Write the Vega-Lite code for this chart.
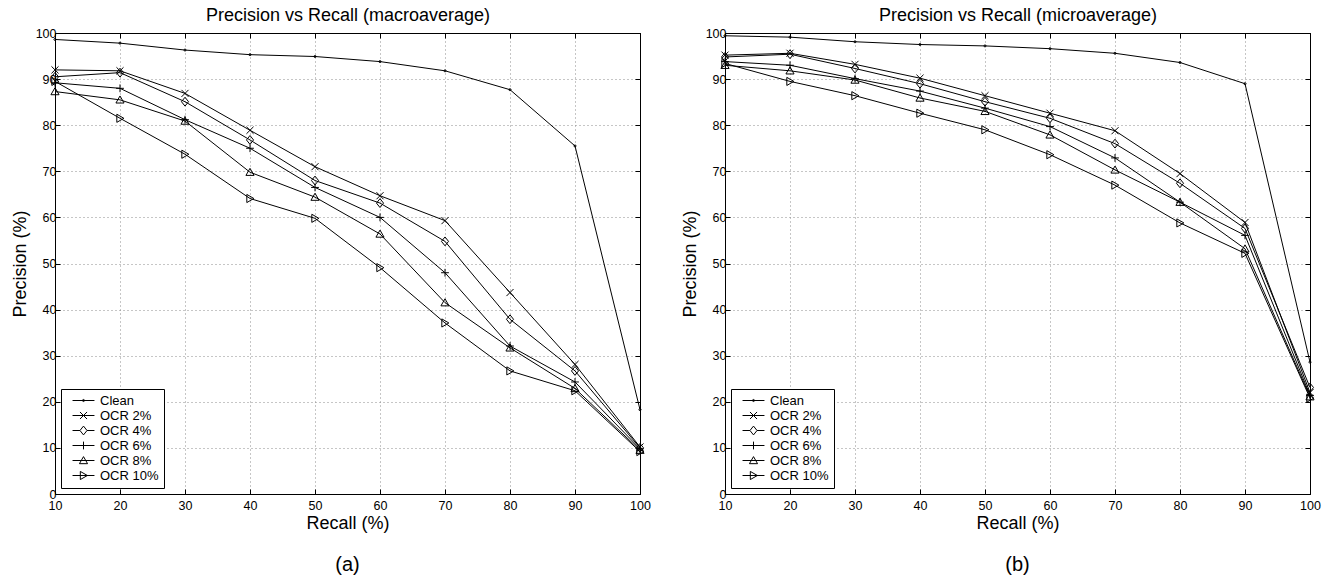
{
  "$schema": "https://vega.github.io/schema/vega-lite/v6.json",
  "background": "white",
  "padding": {"left": 10, "top": 6, "right": 2, "bottom": 2},
  "datasets": {
    "macro": [
      {"series": "Clean", "recall": 10, "precision": 98.6}, {"series": "Clean", "recall": 20, "precision": 97.8}, {"series": "Clean", "recall": 30, "precision": 96.3}, {"series": "Clean", "recall": 40, "precision": 95.3}, {"series": "Clean", "recall": 50, "precision": 94.9}, {"series": "Clean", "recall": 60, "precision": 93.8}, {"series": "Clean", "recall": 70, "precision": 91.8}, {"series": "Clean", "recall": 80, "precision": 87.7}, {"series": "Clean", "recall": 90, "precision": 75.5}, {"series": "Clean", "recall": 100, "precision": 18.3},
      {"series": "OCR 2%", "recall": 10, "precision": 92.0}, {"series": "OCR 2%", "recall": 20, "precision": 91.8}, {"series": "OCR 2%", "recall": 30, "precision": 86.9}, {"series": "OCR 2%", "recall": 40, "precision": 78.9}, {"series": "OCR 2%", "recall": 50, "precision": 71.0}, {"series": "OCR 2%", "recall": 60, "precision": 64.7}, {"series": "OCR 2%", "recall": 70, "precision": 59.3}, {"series": "OCR 2%", "recall": 80, "precision": 43.7}, {"series": "OCR 2%", "recall": 90, "precision": 28.1}, {"series": "OCR 2%", "recall": 100, "precision": 10.2},
      {"series": "OCR 4%", "recall": 10, "precision": 90.5}, {"series": "OCR 4%", "recall": 20, "precision": 91.4}, {"series": "OCR 4%", "recall": 30, "precision": 85.1}, {"series": "OCR 4%", "recall": 40, "precision": 76.8}, {"series": "OCR 4%", "recall": 50, "precision": 68.0}, {"series": "OCR 4%", "recall": 60, "precision": 63.1}, {"series": "OCR 4%", "recall": 70, "precision": 54.8}, {"series": "OCR 4%", "recall": 80, "precision": 37.9}, {"series": "OCR 4%", "recall": 90, "precision": 26.7}, {"series": "OCR 4%", "recall": 100, "precision": 10.0},
      {"series": "OCR 6%", "recall": 10, "precision": 89.2}, {"series": "OCR 6%", "recall": 20, "precision": 88.0}, {"series": "OCR 6%", "recall": 30, "precision": 81.2}, {"series": "OCR 6%", "recall": 40, "precision": 75.0}, {"series": "OCR 6%", "recall": 50, "precision": 66.5}, {"series": "OCR 6%", "recall": 60, "precision": 60.0}, {"series": "OCR 6%", "recall": 70, "precision": 48.0}, {"series": "OCR 6%", "recall": 80, "precision": 32.1}, {"series": "OCR 6%", "recall": 90, "precision": 24.3}, {"series": "OCR 6%", "recall": 100, "precision": 9.8},
      {"series": "OCR 8%", "recall": 10, "precision": 87.3}, {"series": "OCR 8%", "recall": 20, "precision": 85.5}, {"series": "OCR 8%", "recall": 30, "precision": 80.9}, {"series": "OCR 8%", "recall": 40, "precision": 69.8}, {"series": "OCR 8%", "recall": 50, "precision": 64.4}, {"series": "OCR 8%", "recall": 60, "precision": 56.4}, {"series": "OCR 8%", "recall": 70, "precision": 41.5}, {"series": "OCR 8%", "recall": 80, "precision": 31.7}, {"series": "OCR 8%", "recall": 90, "precision": 22.9}, {"series": "OCR 8%", "recall": 100, "precision": 9.5},
      {"series": "OCR 10%", "recall": 10, "precision": 89.5}, {"series": "OCR 10%", "recall": 20, "precision": 81.5}, {"series": "OCR 10%", "recall": 30, "precision": 73.7}, {"series": "OCR 10%", "recall": 40, "precision": 64.1}, {"series": "OCR 10%", "recall": 50, "precision": 59.8}, {"series": "OCR 10%", "recall": 60, "precision": 49.1}, {"series": "OCR 10%", "recall": 70, "precision": 37.1}, {"series": "OCR 10%", "recall": 80, "precision": 26.7}, {"series": "OCR 10%", "recall": 90, "precision": 22.4}, {"series": "OCR 10%", "recall": 100, "precision": 9.2}
    ],
    "micro": [
      {"series": "Clean", "recall": 10, "precision": 99.4}, {"series": "Clean", "recall": 20, "precision": 99.1}, {"series": "Clean", "recall": 30, "precision": 98.1}, {"series": "Clean", "recall": 40, "precision": 97.5}, {"series": "Clean", "recall": 50, "precision": 97.2}, {"series": "Clean", "recall": 60, "precision": 96.6}, {"series": "Clean", "recall": 70, "precision": 95.6}, {"series": "Clean", "recall": 80, "precision": 93.6}, {"series": "Clean", "recall": 90, "precision": 89.0}, {"series": "Clean", "recall": 100, "precision": 28.6},
      {"series": "OCR 2%", "recall": 10, "precision": 95.2}, {"series": "OCR 2%", "recall": 20, "precision": 95.6}, {"series": "OCR 2%", "recall": 30, "precision": 93.2}, {"series": "OCR 2%", "recall": 40, "precision": 90.2}, {"series": "OCR 2%", "recall": 50, "precision": 86.4}, {"series": "OCR 2%", "recall": 60, "precision": 82.6}, {"series": "OCR 2%", "recall": 70, "precision": 78.8}, {"series": "OCR 2%", "recall": 80, "precision": 69.5}, {"series": "OCR 2%", "recall": 90, "precision": 58.9}, {"series": "OCR 2%", "recall": 100, "precision": 22.0},
      {"series": "OCR 4%", "recall": 10, "precision": 94.8}, {"series": "OCR 4%", "recall": 20, "precision": 95.4}, {"series": "OCR 4%", "recall": 30, "precision": 92.3}, {"series": "OCR 4%", "recall": 40, "precision": 89.0}, {"series": "OCR 4%", "recall": 50, "precision": 85.1}, {"series": "OCR 4%", "recall": 60, "precision": 81.5}, {"series": "OCR 4%", "recall": 70, "precision": 76.0}, {"series": "OCR 4%", "recall": 80, "precision": 67.4}, {"series": "OCR 4%", "recall": 90, "precision": 57.6}, {"series": "OCR 4%", "recall": 100, "precision": 23.1},
      {"series": "OCR 6%", "recall": 10, "precision": 93.8}, {"series": "OCR 6%", "recall": 20, "precision": 93.0}, {"series": "OCR 6%", "recall": 30, "precision": 90.1}, {"series": "OCR 6%", "recall": 40, "precision": 87.4}, {"series": "OCR 6%", "recall": 50, "precision": 83.7}, {"series": "OCR 6%", "recall": 60, "precision": 79.7}, {"series": "OCR 6%", "recall": 70, "precision": 72.9}, {"series": "OCR 6%", "recall": 80, "precision": 63.3}, {"series": "OCR 6%", "recall": 90, "precision": 56.1}, {"series": "OCR 6%", "recall": 100, "precision": 21.4},
      {"series": "OCR 8%", "recall": 10, "precision": 93.0}, {"series": "OCR 8%", "recall": 20, "precision": 91.8}, {"series": "OCR 8%", "recall": 30, "precision": 89.8}, {"series": "OCR 8%", "recall": 40, "precision": 85.9}, {"series": "OCR 8%", "recall": 50, "precision": 83.0}, {"series": "OCR 8%", "recall": 60, "precision": 77.9}, {"series": "OCR 8%", "recall": 70, "precision": 70.3}, {"series": "OCR 8%", "recall": 80, "precision": 63.3}, {"series": "OCR 8%", "recall": 90, "precision": 53.2}, {"series": "OCR 8%", "recall": 100, "precision": 21.1},
      {"series": "OCR 10%", "recall": 10, "precision": 93.4}, {"series": "OCR 10%", "recall": 20, "precision": 89.5}, {"series": "OCR 10%", "recall": 30, "precision": 86.4}, {"series": "OCR 10%", "recall": 40, "precision": 82.6}, {"series": "OCR 10%", "recall": 50, "precision": 79.0}, {"series": "OCR 10%", "recall": 60, "precision": 73.6}, {"series": "OCR 10%", "recall": 70, "precision": 67.0}, {"series": "OCR 10%", "recall": 80, "precision": 58.8}, {"series": "OCR 10%", "recall": 90, "precision": 52.2}, {"series": "OCR 10%", "recall": 100, "precision": 20.8}
    ]
  },
  "config": {
    "font": "Liberation Sans",
    "view": {"stroke": "black", "strokeWidth": 1},
    "axis": {
      "grid": true, "gridColor": "#8c8c8c", "gridDash": [1, 3], "gridWidth": 1,
      "domainColor": "black", "tickColor": "black", "labelColor": "black", "titleColor": "black",
      "labelFontSize": 12.5, "labelFont": "Liberation Sans", "titleFont": "Liberation Sans",
      "titleFontSize": 18, "titleFontWeight": "normal", "tickSize": -5, "labelFlush": false, "labelOverlap": false
    },
    "axisX": {"labelPadding": 10},
    "axisY": {"labelPadding": 4},
    "legend": {
      "orient": "bottom-left", "offset": 6, "strokeColor": "black", "fillColor": "white",
      "padding": 5, "labelFontSize": 13, "labelFont": "Liberation Sans", "labelColor": "black",
      "rowPadding": 1, "symbolSize": 50, "symbolStrokeColor": "black", "symbolStrokeWidth": 1,
      "symbolOffset": 11, "labelOffset": 10, "cornerRadius": 0
    },
    "title": {"font": "Liberation Sans", "color": "black", "fontWeight": "normal"}
  },
  "resolve": {"scale": {"shape": "independent", "color": "independent"}, "legend": {"shape": "independent", "color": "independent"}},
  "spacing": 29,
  "hconcat": [
    {
      "width": 585, "height": 461,
      "data": {"name": "macro"},
      "title": {"text": "(a)", "orient": "bottom", "fontSize": 20, "offset": 22},
      "resolve": {"axis": {"x": "independent", "y": "independent"}},
      "layer": [
        {
          "mark": {"type": "line", "color": "black", "strokeWidth": 1},
          "encoding": {
            "x": {"field": "recall", "type": "quantitative", "scale": {"domain": [10, 100], "nice": false}, "axis": {"title": "Recall (%)", "values": [10, 20, 30, 40, 50, 60, 70, 80, 90, 100], "titlePadding": 3}},
            "y": {"field": "precision", "type": "quantitative", "scale": {"domain": [0, 100], "nice": false}, "axis": {"title": "Precision (%)", "values": [0, 10, 20, 30, 40, 50, 60, 70, 80, 90, 100], "titlePadding": 6}},
            "detail": {"field": "series", "type": "nominal"}
          }
        },
        {
          "mark": {"type": "point", "filled": false, "strokeWidth": 1, "opacity": 1, "size": 50},
          "encoding": {
            "x": {"field": "recall", "type": "quantitative", "scale": {"domain": [10, 100], "nice": false}, "axis": {"orient": "top", "labels": false, "grid": false, "title": "Precision vs Recall (macroaverage)", "titleFontSize": 18, "titlePadding": 8, "values": [10, 20, 30, 40, 50, 60, 70, 80, 90, 100]}},
            "y": {"field": "precision", "type": "quantitative", "scale": {"domain": [0, 100], "nice": false}, "axis": {"orient": "right", "labels": false, "grid": false, "title": null, "values": [0, 10, 20, 30, 40, 50, 60, 70, 80, 90, 100]}},
            "shape": {
              "field": "series", "type": "nominal", "legend": null,
              "scale": {
                "domain": ["Clean", "OCR 2%", "OCR 4%", "OCR 6%", "OCR 8%", "OCR 10%"],
                "range": ["M-0.3,0A0.3,0.3,0,1,1,0.3,0A0.3,0.3,0,1,1,-0.3,0Z", "M-1,-1L1,1M-1,1L1,-1", "M0,-1.25L1,0L0,1.25L-1,0Z", "M-1.1,0H1.1M0,-1.1V1.1", "M0,-1.1L1.15,0.9H-1.15Z", "M-0.9,-1.15L1.1,0L-0.9,1.15Z"]
              }
            },
            "color": {
              "field": "series", "type": "nominal",
              "sort": ["Clean", "OCR 2%", "OCR 4%", "OCR 6%", "OCR 8%", "OCR 10%"],
              "scale": {"range": ["black", "black", "black", "black", "black", "black"]},
              "legend": {
                "title": null,
                "symbolType": {"expr": "datum.value === 'Clean' ? 'M-3.1,0H3.1M-0.3,0A0.3,0.3,0,1,1,0.3,0A0.3,0.3,0,1,1,-0.3,0Z' : datum.value === 'OCR 2%' ? 'M-3.1,0H3.1M-1,-1L1,1M-1,1L1,-1' : datum.value === 'OCR 4%' ? 'M-3.1,0H-1M1,0H3.1M0,-1.25L1,0L0,1.25L-1,0Z' : datum.value === 'OCR 6%' ? 'M-3.1,0H3.1M0,-1.1V1.1' : datum.value === 'OCR 8%' ? 'M-3.1,0H3.1M0,-1.1L1.15,0.9H-1.15Z' : 'M-3.1,0H3.1M-0.9,-1.15L1.1,0L-0.9,1.15Z'"}
              }
            }
          }
        }
      ]
    },
    {
      "width": 585, "height": 461,
      "data": {"name": "micro"},
      "title": {"text": "(b)", "orient": "bottom", "fontSize": 20, "offset": 22},
      "resolve": {"axis": {"x": "independent", "y": "independent"}},
      "layer": [
        {
          "mark": {"type": "line", "color": "black", "strokeWidth": 1},
          "encoding": {
            "x": {"field": "recall", "type": "quantitative", "scale": {"domain": [10, 100], "nice": false}, "axis": {"title": "Recall (%)", "values": [10, 20, 30, 40, 50, 60, 70, 80, 90, 100], "titlePadding": 3}},
            "y": {"field": "precision", "type": "quantitative", "scale": {"domain": [0, 100], "nice": false}, "axis": {"title": "Precision (%)", "values": [0, 10, 20, 30, 40, 50, 60, 70, 80, 90, 100], "titlePadding": 6}},
            "detail": {"field": "series", "type": "nominal"}
          }
        },
        {
          "mark": {"type": "point", "filled": false, "strokeWidth": 1, "opacity": 1, "size": 50},
          "encoding": {
            "x": {"field": "recall", "type": "quantitative", "scale": {"domain": [10, 100], "nice": false}, "axis": {"orient": "top", "labels": false, "grid": false, "title": "Precision vs Recall (microaverage)", "titleFontSize": 18, "titlePadding": 8, "values": [10, 20, 30, 40, 50, 60, 70, 80, 90, 100]}},
            "y": {"field": "precision", "type": "quantitative", "scale": {"domain": [0, 100], "nice": false}, "axis": {"orient": "right", "labels": false, "grid": false, "title": null, "values": [0, 10, 20, 30, 40, 50, 60, 70, 80, 90, 100]}},
            "shape": {
              "field": "series", "type": "nominal", "legend": null,
              "scale": {
                "domain": ["Clean", "OCR 2%", "OCR 4%", "OCR 6%", "OCR 8%", "OCR 10%"],
                "range": ["M-0.3,0A0.3,0.3,0,1,1,0.3,0A0.3,0.3,0,1,1,-0.3,0Z", "M-1,-1L1,1M-1,1L1,-1", "M0,-1.25L1,0L0,1.25L-1,0Z", "M-1.1,0H1.1M0,-1.1V1.1", "M0,-1.1L1.15,0.9H-1.15Z", "M-0.9,-1.15L1.1,0L-0.9,1.15Z"]
              }
            },
            "color": {
              "field": "series", "type": "nominal",
              "sort": ["Clean", "OCR 2%", "OCR 4%", "OCR 6%", "OCR 8%", "OCR 10%"],
              "scale": {"range": ["black", "black", "black", "black", "black", "black"]},
              "legend": {
                "title": null,
                "symbolType": {"expr": "datum.value === 'Clean' ? 'M-3.1,0H3.1M-0.3,0A0.3,0.3,0,1,1,0.3,0A0.3,0.3,0,1,1,-0.3,0Z' : datum.value === 'OCR 2%' ? 'M-3.1,0H3.1M-1,-1L1,1M-1,1L1,-1' : datum.value === 'OCR 4%' ? 'M-3.1,0H-1M1,0H3.1M0,-1.25L1,0L0,1.25L-1,0Z' : datum.value === 'OCR 6%' ? 'M-3.1,0H3.1M0,-1.1V1.1' : datum.value === 'OCR 8%' ? 'M-3.1,0H3.1M0,-1.1L1.15,0.9H-1.15Z' : 'M-3.1,0H3.1M-0.9,-1.15L1.1,0L-0.9,1.15Z'"}
              }
            }
          }
        }
      ]
    }
  ]
}
